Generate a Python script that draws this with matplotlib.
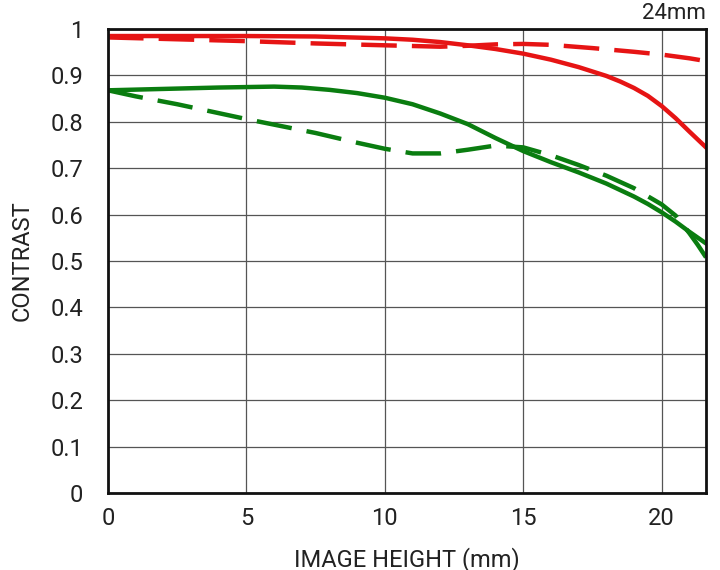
import matplotlib
matplotlib.use("Agg")
import matplotlib.pyplot as plt

# Data
red_solid_x = [0, 2.5, 5, 7.5, 10, 11, 12, 13, 14, 15, 16, 17, 18, 18.5, 19, 19.5, 20, 20.5, 21, 21.6]
red_solid_y = [0.985, 0.985, 0.985, 0.984, 0.98, 0.977, 0.972, 0.965, 0.957, 0.947, 0.934, 0.918, 0.899, 0.887, 0.873, 0.856, 0.834, 0.808, 0.779, 0.745]

red_dash_x = [0, 2.5, 5, 7.5, 10, 12, 13, 14, 15, 16, 17.5, 19, 20, 21, 21.6]
red_dash_y = [0.982, 0.978, 0.974, 0.969, 0.965, 0.962, 0.964, 0.967, 0.968, 0.966, 0.959, 0.951, 0.945, 0.937, 0.931]

green_solid_x = [0, 2, 4, 5, 6, 7, 8, 9, 10, 11, 12, 13, 14, 15, 16, 17, 18, 19, 19.5, 20, 20.5, 21, 21.6]
green_solid_y = [0.868, 0.871, 0.874, 0.875, 0.876, 0.874, 0.869, 0.862, 0.852, 0.838, 0.818, 0.795, 0.765, 0.737, 0.713, 0.691, 0.667, 0.639, 0.623, 0.605, 0.585, 0.563, 0.538]

green_dash_x = [0, 1, 2.5, 5, 7.5, 9, 10, 11, 12, 13, 14, 15, 16, 17, 18, 19, 20, 20.5, 21, 21.3, 21.6]
green_dash_y = [0.868, 0.855, 0.838, 0.806, 0.776, 0.755, 0.742, 0.732, 0.732, 0.74, 0.749, 0.745, 0.728, 0.707, 0.684, 0.657, 0.622, 0.598, 0.56, 0.535, 0.508]

x_ticks = [0, 5, 10, 15, 20]
y_ticks = [0, 0.1, 0.2, 0.3, 0.4, 0.5, 0.6, 0.7, 0.8, 0.9, 1]
y_tick_labels = ["0", "0.1", "0.2", "0.3", "0.4", "0.5", "0.6", "0.7", "0.8", "0.9", "1"]

plt.rcParams['font.family'] = ['Roboto', 'DejaVu Sans']

RED = "#e61414"
GREEN = "#0a7d10"

fig = plt.figure(figsize=(7.2, 5.7), dpi=100)
ax = fig.add_axes([0.15, 0.135, 0.8306, 0.814])

ax.plot(red_solid_x, red_solid_y, color=RED, lw=3.2)
ax.plot(red_dash_x, red_dash_y, color=RED, lw=3.2, dashes=(8, 3.4))
ax.plot(green_solid_x, green_solid_y, color=GREEN, lw=3.2)
ax.plot(green_dash_x, green_dash_y, color=GREEN, lw=3.2, dashes=(8, 3.4))

ax.set_xlim(0, 21.6)
ax.set_ylim(0, 1)
ax.set_xticks(x_ticks)
ax.set_yticks(y_ticks)
ax.set_yticklabels(y_tick_labels)
ax.grid(True, color="#555555", lw=0.9)
ax.set_axisbelow(True)
ax.tick_params(length=0, labelsize=17, colors="#222222")
ax.tick_params(axis='y', pad=18)
ax.tick_params(axis='x', pad=10)
for s in ax.spines.values():
    s.set_linewidth(2)
    s.set_color("#111111")

ax.set_xlabel("IMAGE HEIGHT (mm)", fontsize=17, labelpad=12, color="#222222")
ax.set_ylabel("CONTRAST", fontsize=17, labelpad=12, color="#222222")
ax.text(1.0, 1.012, "24mm", transform=ax.transAxes, ha="right", va="bottom",
        fontsize=16, color="#222222")

fig.savefig("out.png", dpi=100)
